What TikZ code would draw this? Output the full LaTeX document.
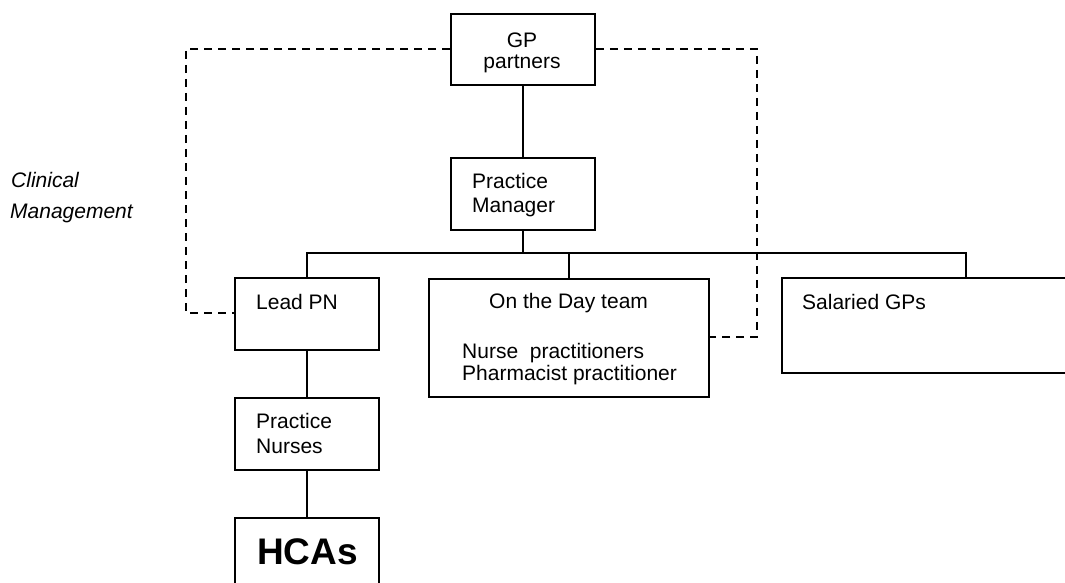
\documentclass[tikz,border=0pt]{standalone}
\usepackage{fontspec}
\setmainfont{Liberation Sans}
\begin{document}
\begin{tikzpicture}[x=1pt,y=-1pt,
  box/.style={draw,line width=1.9pt,rectangle,inner sep=0pt,anchor=north west},
  conn/.style={line width=1.9pt},
  dconn/.style={line width=1.9pt,dash pattern=on 8pt off 6pt},
  txt/.style={inner sep=0pt,anchor=base west,font=\fontsize{21}{25}\selectfont},
  ctxt/.style={inner sep=0pt,anchor=base,font=\fontsize{21}{25}\selectfont}]
\useasboundingbox (0,0) rectangle (1065,583);
\clip (0,0) rectangle (1065,583);
% boxes
\node[box,minimum width=144pt,minimum height=71pt] (gp) at (450,13) {};
\node[box,minimum width=144pt,minimum height=72pt] (pm) at (450,157) {};
\node[box,minimum width=144pt,minimum height=72pt] (lpn) at (234,277) {};
\node[box,minimum width=280pt,minimum height=118pt] (otd) at (428,278) {};
\node[box,minimum width=310pt,minimum height=95pt] (sal) at (781,277) {};
\node[box,minimum width=144pt,minimum height=72pt] (pn) at (234,397) {};
\node[box,minimum width=144pt,minimum height=90pt] (hca) at (234,517) {};
% texts
\node[ctxt] (t1) at (522,48) {GP};
\node[ctxt] (t2) at (522,69) {partners};
\node[txt] (t3) at (472,188) {Practice};
\node[txt] (t4) at (472,212) {Manager};
\node[txt] (t5) at (256,309) {Lead PN};
\node[txt] (t6) at (489,308) {On the Day team};
\node[txt] (t7) at (462,358) {Nurse~~practitioners};
\node[txt] (t8) at (462,380) {Pharmacist practitioner};
\node[txt] (t9) at (802,309) {Salaried GPs};
\node[txt] (t10) at (256,428) {Practice};
\node[txt] (t11) at (256,453) {Nurses};
\node[inner sep=0pt,anchor=base west,font=\fontsize{37}{40}\selectfont\bfseries] (t12) at (257,564) {HCAs};
\node[txt,font=\fontsize{21}{25}\selectfont\itshape] (c1) at (11,187) {Clinical};
\node[txt,font=\fontsize{21}{25}\selectfont\itshape] (c2) at (10,218) {Management};
% connectors
\coordinate (bus) at (pm.south |- 0,253);
\draw[conn] (gp.south) -- (pm.north);
\draw[conn] (pm.south) -- (bus);
\draw[conn] (lpn.north) |- (bus) -| (sal.north east -| 966,277);
\draw[conn] (otd.north -| 569,0) -- (569,253);
\draw[conn] (lpn.south) -- (pn.north);
\draw[conn] (pn.south) -- (hca.north);
\draw[dconn] (gp.west |- 0,49) -| (186,313) -- (lpn.west |- 0,313);
\draw[dconn] (gp.east |- 0,49) -| (757,337) -- (otd.east |- 0,337);
\end{tikzpicture}
\end{document}
